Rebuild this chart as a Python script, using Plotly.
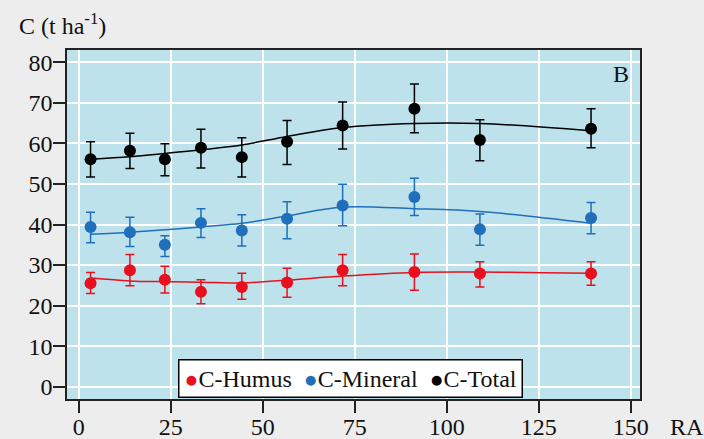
import plotly.graph_objects as go

# ---- data ----
ra = [3.2, 13.9, 23.4, 33.2, 44.3, 56.6, 71.7, 91.2, 109.0, 139.2]

humus = [25.5, 28.7, 26.4, 23.4, 24.6, 25.7, 28.7, 28.3, 27.9, 27.9]
humus_hi = [28.2, 32.6, 29.7, 26.4, 28.0, 29.2, 32.6, 32.7, 30.8, 30.8]
humus_lo = [23.0, 24.9, 23.1, 20.5, 21.6, 22.1, 24.9, 23.8, 24.6, 25.0]
humus_fit = [26.8, 26.1, 25.9, 25.8, 25.6, 26.3, 27.3, 28.2, 28.3, 28.0]

mineral = [39.4, 38.1, 35.0, 40.4, 38.5, 41.4, 44.7, 46.8, 38.8, 41.6]
mineral_hi = [43.0, 41.8, 37.2, 43.9, 42.4, 45.6, 49.9, 51.4, 42.6, 45.4]
mineral_lo = [35.5, 34.6, 32.1, 36.8, 34.7, 36.5, 39.7, 42.2, 34.9, 37.7]
mineral_fit = [37.6, 38.1, 38.7, 39.4, 40.3, 42.1, 44.3, 43.9, 43.2, 40.3]

total = [56.1, 58.2, 56.1, 58.9, 56.6, 60.4, 64.4, 68.5, 60.8, 63.6]
total_hi = [60.4, 62.5, 59.9, 63.5, 61.4, 65.6, 70.2, 74.6, 65.8, 68.5]
total_lo = [51.7, 53.8, 52.0, 53.9, 51.7, 54.8, 58.6, 62.6, 55.7, 58.9]
total_fit = [56.1, 56.7, 57.5, 58.4, 59.6, 61.7, 63.9, 64.9, 64.9, 63.1]

series_names = ["C-Humus", "C-Mineral", "C-Total"]
x_ticks = [0, 25, 50, 75, 100, 125, 150]
y_ticks = [0, 10, 20, 30, 40, 50, 60, 70, 80]

colors = ["#E8101E", "#1F6FBA", "#000000"]
FONT = "Liberation Serif, Times New Roman, serif"
TXT = "#111111"

fig = go.Figure()

groups = [
    (humus, humus_hi, humus_lo, humus_fit),
    (mineral, mineral_hi, mineral_lo, mineral_fit),
    (total, total_hi, total_lo, total_fit),
]

for (vals, hi, lo, fit), name, col in zip(groups, series_names, colors):
    fig.add_trace(go.Scatter(
        x=ra, y=fit, mode="lines",
        line=dict(color=col, width=1.5, shape="spline", smoothing=1.0),
        showlegend=False, hoverinfo="skip", name=name + " fit"))
    fig.add_trace(go.Scatter(
        x=ra, y=vals, mode="markers", name=name,
        marker=dict(color=col, size=12),
        error_y=dict(type="data", symmetric=False,
                     array=[h - v for h, v in zip(hi, vals)],
                     arrayminus=[v - l for v, l in zip(vals, lo)],
                     color=col, thickness=1.5, width=4.5),
        showlegend=False))

fig.update_layout(
    width=704, height=439,
    margin=dict(l=67, r=64, t=50, b=40),
    paper_bgcolor="#EDEDED",
    plot_bgcolor="#BDE2EC",
    font=dict(family=FONT, size=24, color=TXT),
    showlegend=False,
)

axis_common = dict(
    showgrid=True, gridcolor="white", gridwidth=1.5,
    showline=True, linecolor="#222222", linewidth=1.5, mirror=True,
    ticks="outside", ticklen=12, tickwidth=1.5, tickcolor="#222222",
    zeroline=False, automargin=False,
    tickfont=dict(size=24, family=FONT, color=TXT),
)
fig.update_xaxes(range=[-3.2, 152.5], tickvals=x_ticks,
                 ticktext=[str(t) for t in x_ticks],
                 ticklabelstandoff=-7, **axis_common)
fig.update_yaxes(range=[-3, 83], tickvals=y_ticks,
                 ticktext=[str(t) for t in y_ticks],
                 ticklabelstandoff=-4, **axis_common)

# legend box (dot glyph + name, like the reference)
legend_text = "&nbsp;&nbsp;".join(
    "<span style='color:%s;font-size:23px'>\u25CF</span>%s" % (c, n)
    for c, n in zip(colors, series_names))
fig.add_annotation(text=legend_text, xref="paper", yref="paper",
                   x=0.4948, y=0.060, xanchor="center", yanchor="middle",
                   showarrow=False, bgcolor="white", bordercolor="black",
                   borderwidth=1.5, borderpad=5,
                   font=dict(size=24, family=FONT, color=TXT))

fig.add_annotation(text="C (t ha<sup>-1</sup>)", xref="paper", yref="paper",
                   x=-0.087, y=1.075, xanchor="left", yanchor="middle",
                   showarrow=False, font=dict(size=24, family=FONT, color=TXT))
fig.add_annotation(text="B", xref="paper", yref="paper",
                   x=0.985, y=0.93, xanchor="right", yanchor="middle",
                   showarrow=False, font=dict(size=24, family=FONT, color=TXT))
fig.add_annotation(text="RA", xref="paper", yref="paper",
                   x=1.049, y=-0.08, xanchor="left", yanchor="middle",
                   showarrow=False, font=dict(size=24, family=FONT, color=TXT))

fig.write_html("out.html", config={"displayModeBar": False},
               post_script="document.body.style.margin='0';")
